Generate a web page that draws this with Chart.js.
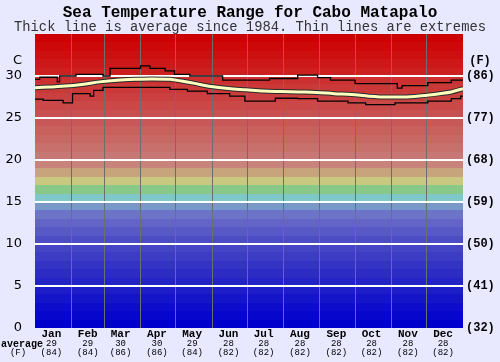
<!DOCTYPE html>
<html>
<head>
<meta charset="utf-8">
<script src="https://cdn.jsdelivr.net/npm/chart.js@4.4.1/dist/chart.umd.min.js"></script>
<style>
    html, body { margin: 0; padding: 0; background: #E8E8FF; }
    canvas { display: block; }
</style>
</head>
<body>
<canvas id="grafico-temperatura" width="500" height="362"></canvas>
<script>
// Meses e posições (dia do ano)
const months = ['Jan', 'Feb', 'Mar', 'Apr', 'May', 'Jun', 'Jul', 'Aug', 'Sep', 'Oct', 'Nov', 'Dec'];
const monthStarts = [0, 31, 59, 90, 120, 151, 181, 212, 243, 273, 304, 334, 365];
const labelDays = [14, 45, 73, 104, 134, 165, 195, 226, 257, 287, 318, 348];
const avgC = [29, 29, 30, 30, 29, 28, 28, 28, 28, 28, 28, 28];
const avgF = [84, 84, 86, 86, 84, 82, 82, 82, 82, 82, 82, 82];

// Eixos
const yTicks = [0, 5, 10, 15, 20, 25, 30, 35];
const fLabels = ['(32)', '(41)', '(50)', '(59)', '(68)', '(77)', '(86)', ''];

// Média (linha grossa)
const avgDays = [0, 13, 26, 40, 55, 70, 85, 100, 115, 125, 135, 150, 165, 180, 195, 210, 225, 240, 255, 270, 285, 300, 315, 330, 345, 355, 365];
const avgTemps = [28.6, 28.7, 28.8, 29.0, 29.3, 29.5, 29.6, 29.65, 29.6, 29.4, 29.15, 28.75, 28.5, 28.35, 28.2, 28.15, 28.1, 28.05, 27.9, 27.8, 27.6, 27.5, 27.5, 27.65, 27.9, 28.1, 28.5];

// Extremos (linhas finas)
const maxDays = [0, 4, 19, 21, 35, 58, 64, 90, 98, 111, 119, 132, 160, 200, 224, 241, 252, 273, 309, 313, 335, 355, 365];
const maxTemps = [29.6, 29.85, 29.3, 30.0, 30.2, 30.0, 30.9, 31.2, 30.9, 30.6, 30.2, 30.0, 29.5, 29.7, 30.1, 29.8, 29.5, 29.1, 28.55, 28.85, 29.2, 29.5, 29.5];
const minDays = [0, 7, 24, 32, 47, 50, 58, 115, 130, 147, 166, 179, 205, 224, 241, 267, 282, 307, 335, 355, 363, 365];
const minTemps = [27.25, 27.1, 26.8, 27.9, 27.6, 28.3, 28.65, 28.4, 28.2, 27.9, 27.6, 27.0, 27.35, 27.3, 27.0, 26.8, 26.6, 26.8, 27.0, 27.3, 27.6, 27.6];

// Faixas de cor do fundo, uma por grau (0 a 35 C)
const bandColors = [
    '#0000CC', '#0606CC', '#0C0CCA', '#1414C8', '#1C1CC8',
    '#2424C6', '#2C2CC4', '#3434C4', '#3C3CC4', '#4444C4',
    '#4C4CC4', '#5858C6', '#6464C8', '#6C74C8', '#7898C8',
    '#80C8C8', '#88C888', '#C8C880', '#C8A47C', '#C8847A',
    '#C87874', '#C8706C', '#C86864', '#C8605C', '#C85858',
    '#C85050', '#CA4848', '#CA4040', '#CA3838', '#CC3030',
    '#CC2020', '#CC1818', '#CC1010', '#CC0808', '#CC0000'
];

const toPoints = (xs, ys) => xs.map((x, i) => ({ x, y: ys[i] }));

const fundo = {
    id: 'fundo',
    beforeDraw(chart) {
        const { ctx, chartArea: a, scales: { y } } = chart;
        ctx.save();
        ctx.fillStyle = '#E8E8FF';
        ctx.fillRect(0, 0, chart.width, chart.height);
        bandColors.forEach((cor, i) => {
            const top = Math.round(y.getPixelForValue(i + 1));
            const bottom = Math.round(y.getPixelForValue(i));
            ctx.fillStyle = cor;
            ctx.fillRect(a.left, top, a.right - a.left, bottom - top);
        });
        ctx.restore();
    },
    afterDraw(chart) {
        const { ctx, chartArea: a, scales: { y } } = chart;
        ctx.save();
        ctx.fillStyle = '#000';
        ctx.textBaseline = 'middle';
        ctx.font = '13px "DejaVu Sans"';
        ctx.textAlign = 'right';
        ctx.fillText('C', a.left - 13, y.getPixelForValue(31.8));
        ctx.font = 'bold 12px "Liberation Mono"';
        ctx.textAlign = 'center';
        ctx.fillText('(F)', a.right + 17, y.getPixelForValue(31.8));
        ctx.font = 'bold 10px "Liberation Mono"';
        ctx.textAlign = 'left';
        ctx.fillText('average', 1, a.bottom + 16);
        ctx.textAlign = 'center';
        ctx.font = '9px "Liberation Mono"';
        ctx.fillText('(F)', 18, a.bottom + 25);
        ctx.restore();
    }
};

Chart.defaults.color = '#000';

new Chart(document.getElementById('grafico-temperatura'), {
    type: 'line',
    data: {
        datasets: [
            {
                label: 'max',
                data: toPoints(maxDays, maxTemps),
                borderColor: '#000',
                borderWidth: 1.3,
                stepped: true,
                pointRadius: 0,
                order: 2
            },
            {
                label: 'min',
                data: toPoints(minDays, minTemps),
                borderColor: '#000',
                borderWidth: 1.3,
                stepped: true,
                pointRadius: 0,
                order: 2
            },
            {
                label: 'average (outline)',
                data: toPoints(avgDays, avgTemps),
                borderColor: '#2A2A2A',
                borderWidth: 5,
                cubicInterpolationMode: 'monotone',
                pointRadius: 0,
                order: 1
            },
            {
                label: 'average',
                data: toPoints(avgDays, avgTemps),
                borderColor: '#FFFFC0',
                borderWidth: 3,
                cubicInterpolationMode: 'monotone',
                pointRadius: 0,
                order: 0
            }
        ]
    },
    options: {
        responsive: false,
        animation: false,
        layout: { padding: 0 },
        plugins: {
            legend: { display: false },
            tooltip: { enabled: false },
            title: {
                display: true,
                text: 'Sea Temperature Range for Cabo Matapalo',
                font: { family: 'Liberation Mono', size: 16, weight: 'bold', lineHeight: 1 },
                padding: { top: 5, bottom: 0 }
            },
            subtitle: {
                display: true,
                text: 'Thick line is average since 1984. Thin lines are extremes',
                color: '#333',
                font: { family: 'Liberation Mono', size: 13.8, lineHeight: '13px' },
                padding: 0
            }
        },
        scales: {
            x: {
                type: 'linear',
                min: 0,
                max: 365,
                afterBuildTicks: ax => {
                    ax.ticks = [...monthStarts, ...labelDays].sort((p, q) => p - q).map(v => ({ value: v }));
                },
                afterFit: ax => { ax.height = 11; },
                grid: {
                    color: c => (c.tick && c.tick.value > 0 && c.tick.value < 365 && monthStarts.includes(c.tick.value)) ? '#6E6E6E' : 'transparent',
                    lineWidth: 1,
                    drawTicks: false
                },
                border: { display: false },
                ticks: {
                    autoSkip: false,
                    maxRotation: 0,
                    padding: 1,
                    font: { family: 'Liberation Mono', size: 11, weight: 'bold', lineHeight: 1 },
                    callback: v => {
                        const i = labelDays.indexOf(v);
                        return i >= 0 ? months[i] : '';
                    }
                }
            },
            xv: {
                type: 'linear',
                position: 'bottom',
                weight: 1,
                min: 0,
                max: 365,
                afterBuildTicks: ax => { ax.ticks = labelDays.map(v => ({ value: v })); },
                afterFit: ax => { ax.height = 23; },
                grid: { display: false, drawTicks: false },
                border: { display: false },
                ticks: {
                    autoSkip: false,
                    maxRotation: 0,
                    padding: 0,
                    font: { family: 'Liberation Mono', size: 9, lineHeight: 1 },
                    callback: v => {
                        const i = labelDays.indexOf(v);
                        return [String(avgC[i]), '(' + avgF[i] + ')'];
                    }
                }
            },
            y: {
                min: 0,
                max: 35,
                afterBuildTicks: ax => { ax.ticks = yTicks.map(v => ({ value: v })); },
                afterFit: ax => { ax.width = 35; },
                grid: {
                    color: c => (c.tick && c.tick.value > 0 && c.tick.value < 35) ? '#FFFFFF' : 'transparent',
                    lineWidth: 2,
                    drawTicks: false
                },
                border: { display: false },
                ticks: {
                    padding: 13,
                    font: { family: 'DejaVu Sans', size: 13 },
                    callback: v => v === 35 ? '' : v
                }
            },
            y2: {
                position: 'right',
                min: 0,
                max: 35,
                afterBuildTicks: ax => { ax.ticks = yTicks.map(v => ({ value: v })); },
                afterFit: ax => { ax.width = 37; },
                grid: { display: false, drawTicks: false },
                border: { display: false },
                ticks: {
                    padding: 3,
                    font: { family: 'Liberation Mono', size: 12, weight: 'bold' },
                    callback: v => fLabels[yTicks.indexOf(v)]
                }
            }
        }
    },
    plugins: [fundo]
});
</script>
</body>
</html>
